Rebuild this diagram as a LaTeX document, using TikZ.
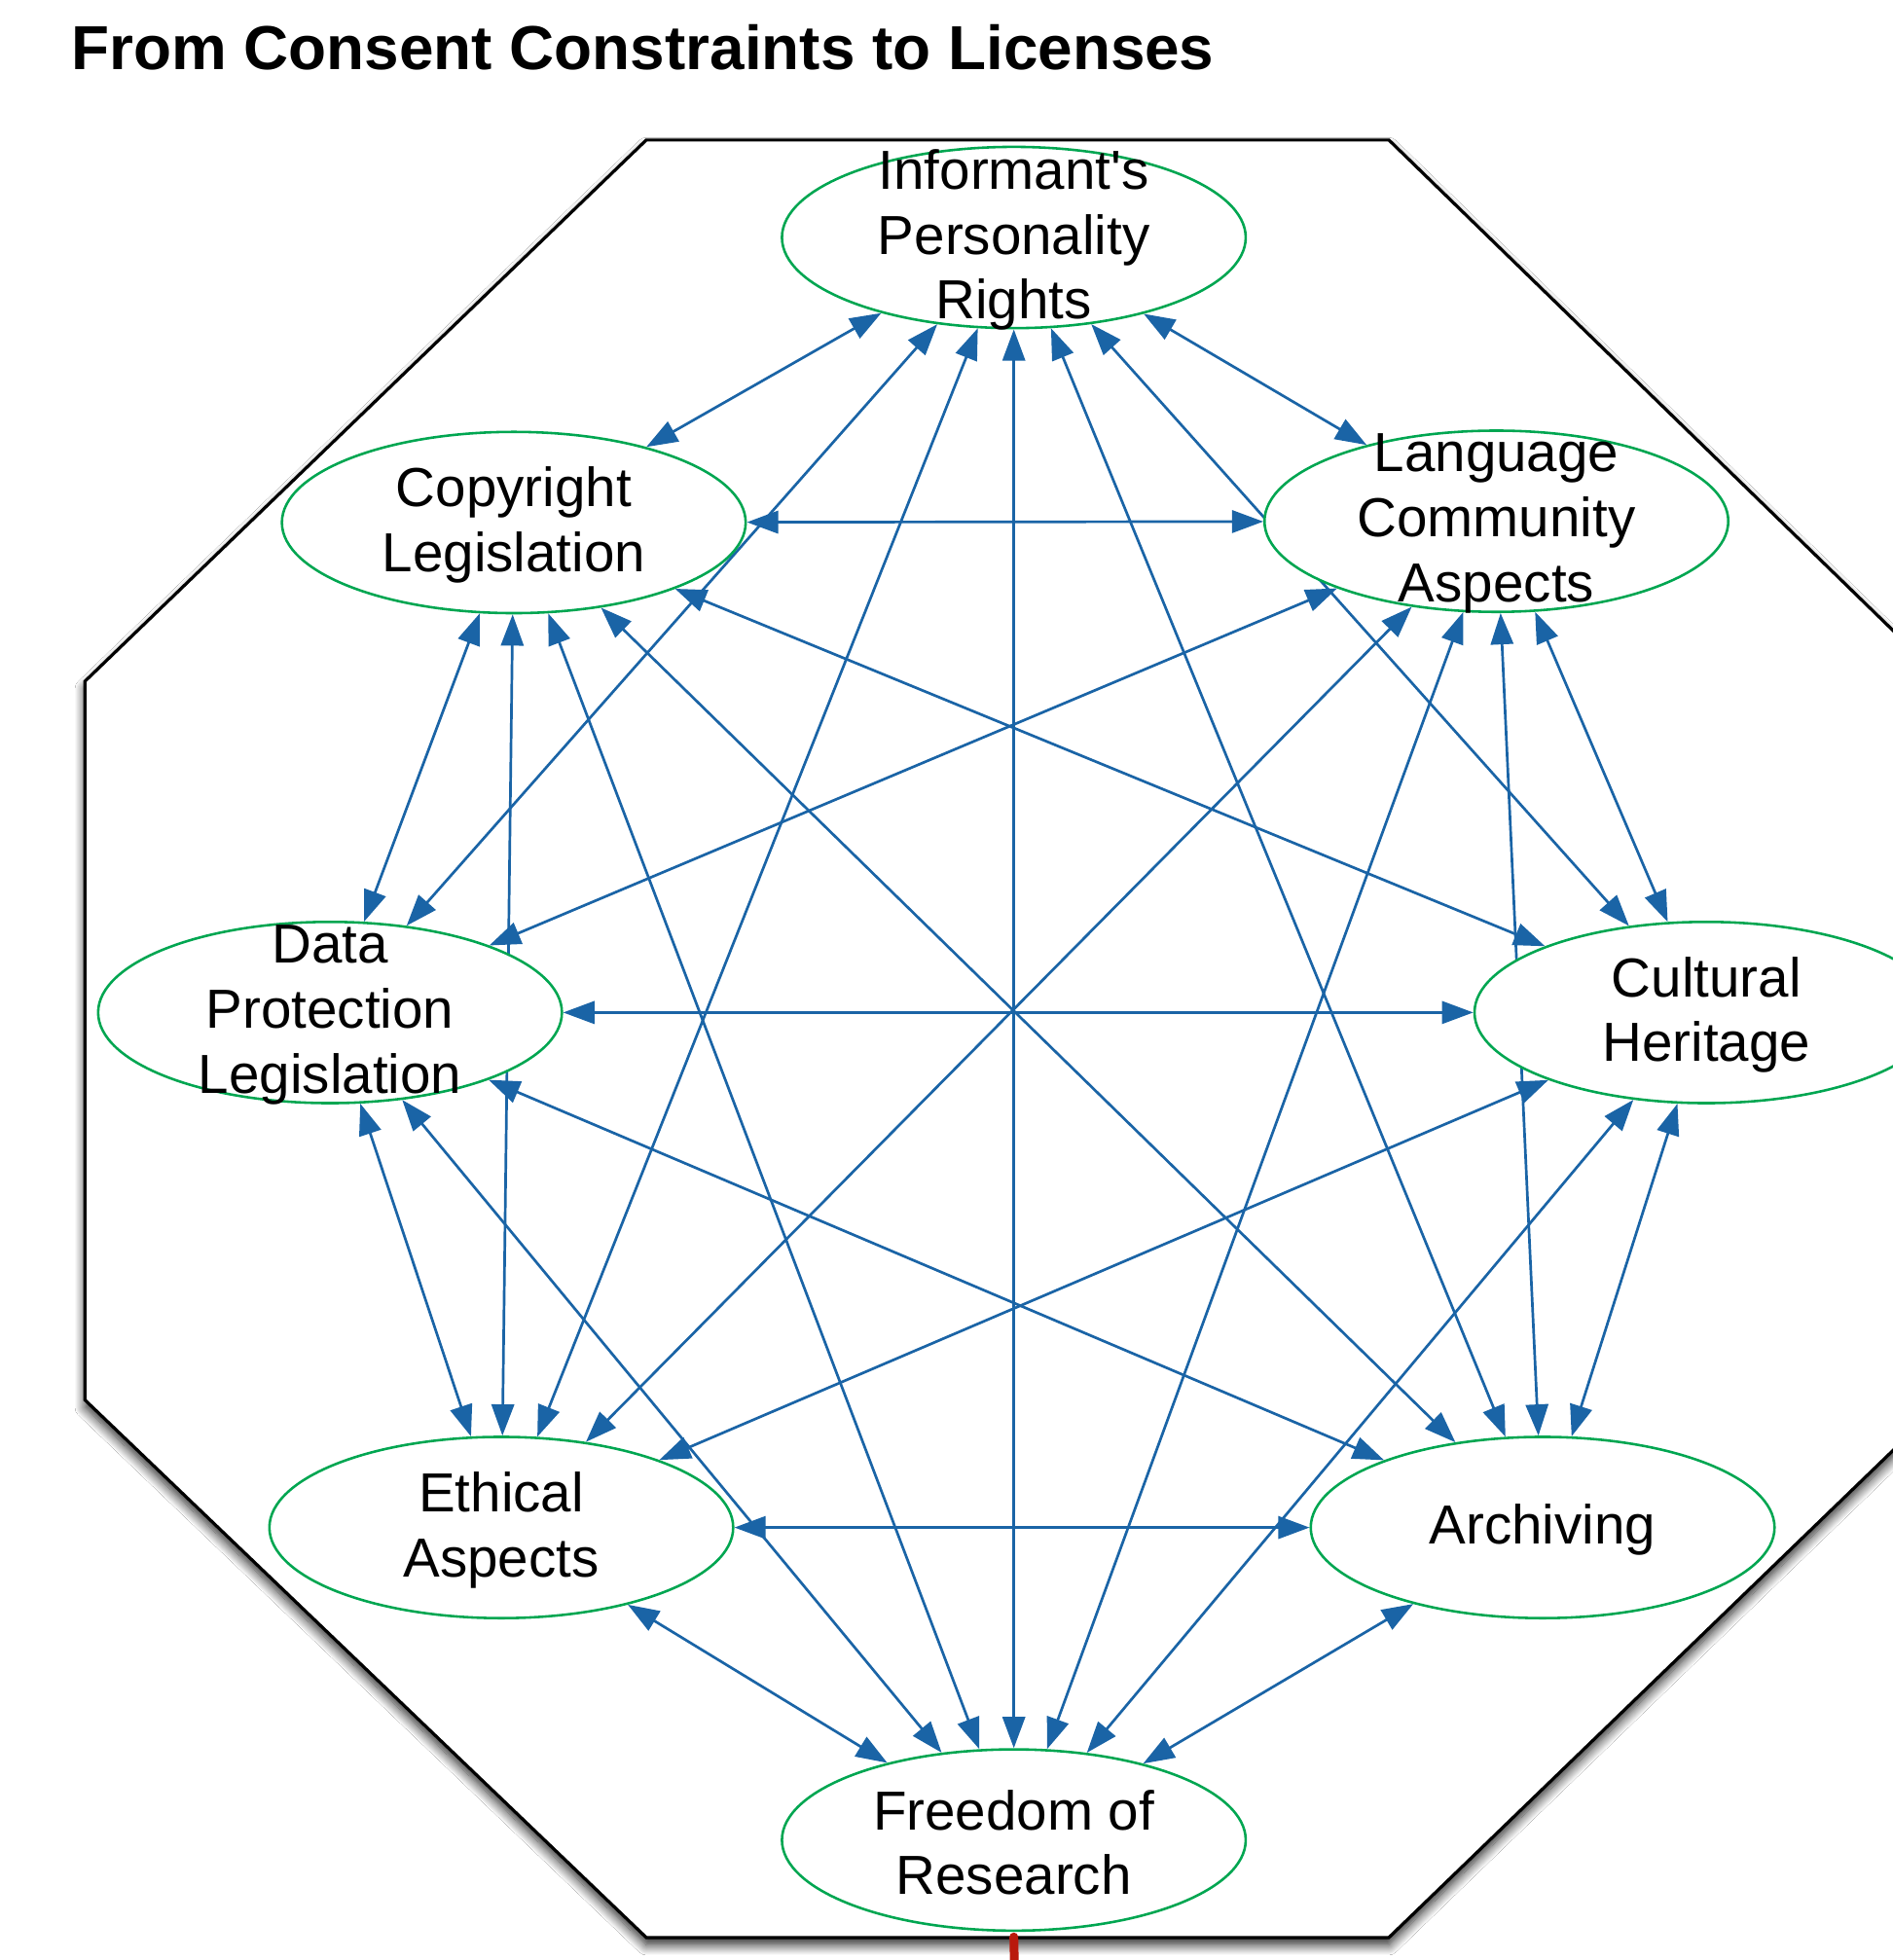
\documentclass[tikz,border=0pt]{standalone}
\usepackage{fontspec}
\setmainfont[Ligatures=TeXOff]{Liberation Sans}
\usetikzlibrary{shapes.geometric,arrows.meta,shadows.blur}
\definecolor{arrowblue}{RGB}{26,100,166}
\definecolor{nodegreen}{RGB}{0,166,81}
\definecolor{linkred}{RGB}{185,25,12}
\pgfdeclarelayer{bg}
\pgfdeclarelayer{edges}
\pgfsetlayers{bg,edges,main}
\tikzset{
  ell/.style={ellipse, draw=nodegreen, line width=2pt, fill=white,
    minimum width=371pt, minimum height=145pt, inner sep=0pt},
  lbl/.style={font=\fontsize{44}{52}\selectfont, align=center, inner sep=0pt, text=black, yshift=-2pt},
  link/.style={draw=arrowblue, line width=2.1pt,
    {Triangle[length=25pt,width=18pt]}-{Triangle[length=25pt,width=18pt]}},
  frame/.style={draw=black, line width=2.5pt, fill=white,
    blur shadow={shadow xshift=0pt, shadow yshift=-6pt, shadow blur radius=8pt,
      shadow blur steps=12, shadow opacity=85}},
}
\begin{document}
\begin{tikzpicture}[x=1pt,y=-1pt]
\useasboundingbox (0,0) rectangle (1514,1568);
\begin{pgfonlayer}{bg}
  \fill[white] (0,0) rectangle (1514,1568);
  \draw[frame] (517,112) -- (1111,112) -- (1556,545) -- (1556,1120) -- (1111,1550)
     -- (517,1550) -- (68,1120) -- (68,545) -- cycle;
\end{pgfonlayer}
\node[anchor=base west, inner sep=0pt, font=\fontsize{49.7}{60}\selectfont\bfseries] (title) at (57,56)
  {From Consent Constraints to Licenses};
\node[ell, label={[lbl]center:{Informant's\\Personality\\Rights}}] (inf) at (811,190) {};
\node[ell, label={[lbl]center:{Copyright\\Legislation}}] (cop) at (411,418) {};
\node[ell, label={[lbl]center:{Language\\Community\\Aspects}}] (lan) at (1197,417) {};
\node[ell, label={[lbl]center:{Data\\Protection\\Legislation}}] (dat) at (264,810) {};
\node[ell, label={[lbl]center:{Cultural\\Heritage}}] (cul) at (1365,810) {};
\node[ell, label={[lbl]center:{Ethical\\Aspects}}] (eth) at (401,1222) {};
\node[ell, label={[lbl]center:{Archiving}}] (arc) at (1234,1222) {};
\node[ell, label={[lbl]center:{Freedom of\\Research}}] (fre) at (811,1472) {};
\begin{pgfonlayer}{edges}
  \foreach \a/\b in {inf/cop,inf/lan,inf/dat,inf/cul,inf/eth,inf/arc,inf/fre,
      cop/lan,cop/dat,cop/cul,cop/eth,cop/arc,cop/fre,
      lan/dat,lan/cul,lan/eth,lan/arc,lan/fre,
      dat/cul,dat/eth,dat/arc,dat/fre,
      cul/eth,cul/arc,cul/fre,
      eth/arc,eth/fre,
      arc/fre}
    \draw[link] (\a) -- (\b);
\end{pgfonlayer}
\coordinate (redend) at (812,1600);
\draw[linkred, line width=7pt, line cap=round] ([yshift=-4pt]fre.south) -- (redend);
\end{tikzpicture}
\end{document}
